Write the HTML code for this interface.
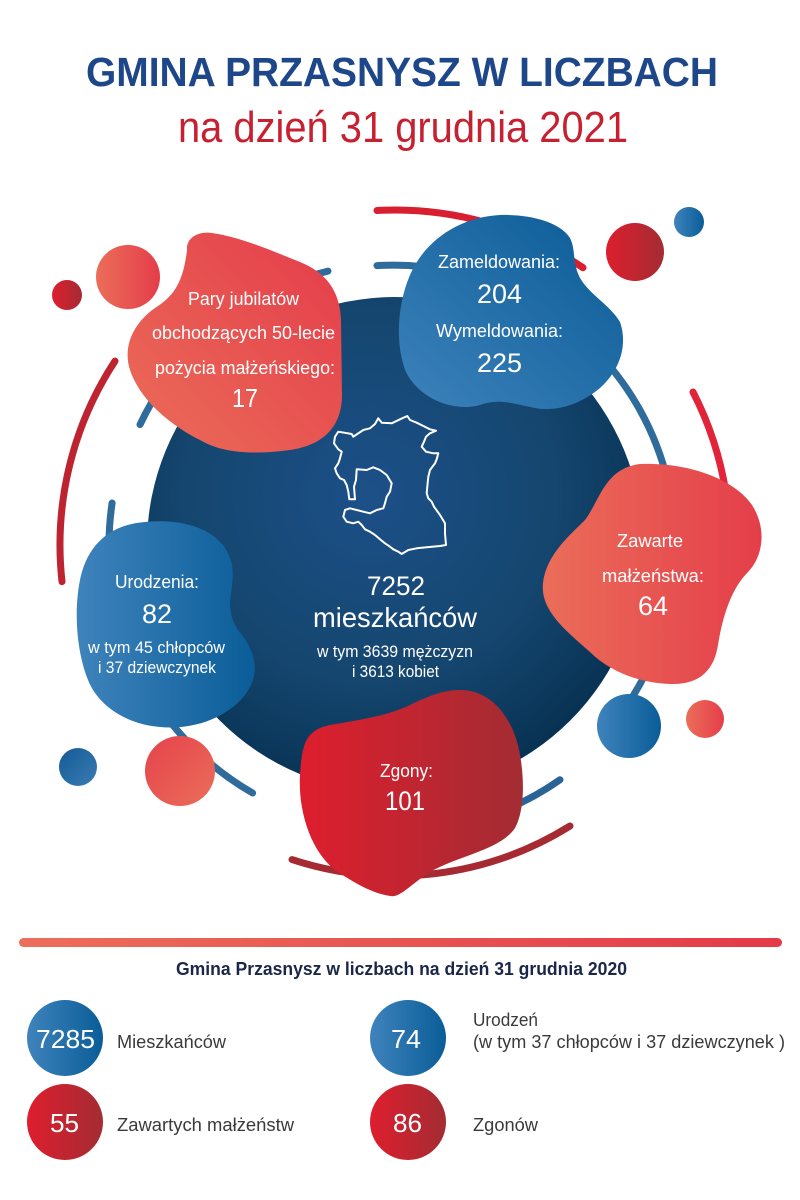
<!DOCTYPE html>
<html>
<head>
<meta charset="utf-8">
<style>
  html,body{margin:0;padding:0;background:#fff;}
  svg{display:block;}
  text{font-family:"Liberation Sans", sans-serif;}
  .w{fill:#fff;}
</style>
</head>
<body>
<svg width="800" height="1200" viewBox="0 0 800 1200" xmlns="http://www.w3.org/2000/svg">
  <defs>
    <radialGradient id="gBig" cx="0.45" cy="0.4" r="0.62">
      <stop offset="0" stop-color="#1c5088"/>
      <stop offset="0.6" stop-color="#15466f"/>
      <stop offset="1" stop-color="#073152"/>
    </radialGradient>
    <linearGradient id="gBlueH" x1="0" y1="0" x2="1" y2="0">
      <stop offset="0" stop-color="#3f83bc"/>
      <stop offset="1" stop-color="#0a5d98"/>
    </linearGradient>
    <linearGradient id="gBlueD" x1="0" y1="1" x2="1" y2="0">
      <stop offset="0" stop-color="#3d82bb"/>
      <stop offset="1" stop-color="#0a5b96"/>
    </linearGradient>
    <linearGradient id="gBlueSm" x1="0" y1="0" x2="1" y2="1">
      <stop offset="0" stop-color="#145a95"/>
      <stop offset="1" stop-color="#3a7cb4"/>
    </linearGradient>
    <linearGradient id="gDeep" x1="0" y1="0" x2="1" y2="0">
      <stop offset="0" stop-color="#de1e2e"/>
      <stop offset="1" stop-color="#a32c33"/>
    </linearGradient>
    <linearGradient id="gOrH" x1="0" y1="0" x2="1" y2="0">
      <stop offset="0" stop-color="#eb6d59"/>
      <stop offset="1" stop-color="#e43e4a"/>
    </linearGradient>
    <linearGradient id="gOrD" x1="0" y1="1" x2="1" y2="0">
      <stop offset="0" stop-color="#eb6d59"/>
      <stop offset="1" stop-color="#e43c4a"/>
    </linearGradient>
    <linearGradient id="gOrC" x1="0" y1="0" x2="1" y2="1">
      <stop offset="0" stop-color="#e5424c"/>
      <stop offset="1" stop-color="#eb6e59"/>
    </linearGradient>
    <linearGradient id="gBar" x1="0" y1="0" x2="1" y2="0">
      <stop offset="0" stop-color="#ec6e5b"/>
      <stop offset="1" stop-color="#e43a48"/>
    </linearGradient>
  </defs>

  <!-- Title -->
  <text x="86" y="86" textLength="632" lengthAdjust="spacingAndGlyphs" font-size="41" font-weight="bold" fill="#1d4788">GMINA PRZASNYSZ W LICZBACH</text>
  <text x="178" y="142" textLength="450" lengthAdjust="spacingAndGlyphs" font-size="44" fill="#c62130">na dzień 31 grudnia 2021</text>

  <!-- Big circle -->
  <circle cx="395" cy="545" r="248" fill="url(#gBig)"/>

  <!-- Arcs -->
  <g fill="none" stroke-width="7" stroke-linecap="round">
    <path d="M377,210.5 A335,335 0 0 1 583,267.7" stroke="#d91f2f"/>
    <path d="M115,361.1 A335,335 0 0 0 62,581.6" stroke="#bd2430"/>
    <path d="M693,392 A335,335 0 0 1 725.5,600" stroke="#e1243a"/>
    <path d="M292,859.6 A331,331 0 0 0 570,826" stroke="#a52a32"/>

    <path d="M377,265.6 A282,282 0 0 1 623.7,710" stroke="#2f6b9b"/>
    <path d="M140,424.6 A282,282 0 0 1 328,271.1" stroke="#2f6b9b"/>
    <path d="M112.1,503 A286,286 0 0 0 252.6,793" stroke="#2f6b9b"/>
    <path d="M500,812 A287,287 0 0 0 560,779.8" stroke="#2a6496"/>
  </g>

  <!-- Small decorative circles -->
  <circle cx="67" cy="295" r="15" fill="url(#gDeep)"/>
  <circle cx="128" cy="277" r="32" fill="url(#gOrH)"/>
  <circle cx="635" cy="252" r="29" fill="url(#gDeep)"/>
  <circle cx="689" cy="222" r="15" fill="url(#gBlueH)"/>
  <circle cx="78" cy="767" r="19" fill="url(#gBlueSm)"/>
  <circle cx="180" cy="771" r="35" fill="url(#gOrC)"/>
  <circle cx="629" cy="726" r="32" fill="url(#gBlueH)"/>
  <circle cx="705" cy="719" r="19" fill="url(#gOrH)"/>

  <!-- Blobs -->
  <!-- Pary jubilatów -->
  <path d="M187,250 C186,238 198,231 212,233 C240,237 270,250 300,262 C325,272 340,290 341,320 L342,395 C342,425 325,445 290,450 C260,454 225,455 200,440 C170,425 140,400 130,370 C122,345 135,322 155,308 C172,297 183,285 187,250 Z" fill="url(#gOrD)"/>
  <!-- Zameldowania -->
  <path d="M500,215 C530,214 560,222 570,238 C576,250 572,262 580,278 C590,295 610,305 620,322 C628,345 620,370 600,388 C580,405 555,412 535,408 C515,404 500,398 480,405 C455,412 420,400 406,372 C395,345 397,305 410,275 C425,240 460,217 500,215 Z" fill="url(#gBlueD)"/>
  <!-- Urodzenia -->
  <path d="M145,522 C185,518 225,530 232,565 C236,590 222,605 238,630 C255,650 262,672 245,695 C225,720 190,730 160,727 C125,724 98,705 88,680 C76,650 74,610 80,580 C86,550 105,525 145,522 Z" fill="url(#gBlueH)"/>
  <!-- Zawarte -->
  <path d="M640,464 C690,462 735,480 752,505 C768,530 762,558 748,572 C730,590 722,620 718,645 C714,670 700,685 670,684 C640,683 610,672 590,652 C565,630 540,610 543,583 C546,555 570,535 585,520 C600,500 605,468 640,464 Z" fill="url(#gOrH)"/>
  <!-- Zgony -->
  <path d="M460,690 C490,690 510,715 518,745 C525,775 525,810 515,828 C500,850 460,855 430,872 C410,885 400,898 390,896 C370,893 350,880 335,870 C310,850 298,810 300,775 C302,745 305,730 330,725 C360,720 390,715 410,705 C430,695 445,690 460,690 Z" fill="url(#gDeep)"/>

  <!-- Map outline -->
  <path d="M349.3,499.3 L348.3,491.7 L346.7,485 L344,480 L340,478.3 L336.7,473.3 L335,468.3 L338.3,463.3 L340,458.3 L341.7,451.7 L338.3,449.3 L334,443.3 L335,436.7 L338.3,431.7 L351.7,434 L353.3,436.7 L363.3,430 L370,428.3 L375,424 L378.3,418.3 L381.7,422.7 L391.7,423.3 L400,419.3 L407.3,416 L410,420 L416.7,422.7 L423.3,426 L430,429.3 L436,430.7 L430,433.3 L426,436.7 L424,441.7 L421.7,446.7 L426,451.7 L433.3,453.3 L438.3,453.3 L436.7,459.3 L435,463.3 L430,470 L428.3,476.7 L427.3,486.7 L426.7,493.3 L428.3,498.3 L431.7,501.7 L434,506.7 L440,515 L445,523.3 L445,533.3 L446,545 L440,546 L426.7,547.3 L416.7,548.3 L408.3,550 L401.7,554 L398.3,551.7 L393.3,549.3 L390,546.7 L385,543.3 L380,539.3 L375,535 L370,531.7 L365,529.3 L361.7,525 L358.3,521.7 L353.3,523.3 L346.7,521.7 L343.3,516.7 L345,510 L350,508.3 L356.7,510 L363.3,511.7 L370,513.3 L376.7,510 L383.3,508.3 L385,503.3 L386.7,496.7 L390,491.7 L391.7,483.3 L386.7,475 L380,470 L373.3,467.3 L366.7,470 L356.7,469.3 L356,480 L354,486.7 L355,499.3 Z" fill="none" stroke="#fff" stroke-width="2" stroke-linejoin="round"/>

  <!-- Blob texts -->
  <g class="w" fill="#fff">
    <text x="188" y="305" textLength="111" lengthAdjust="spacingAndGlyphs" font-size="18">Pary jubilatów</text>
    <text x="152" y="339" textLength="183" lengthAdjust="spacingAndGlyphs" font-size="18">obchodzących 50-lecie</text>
    <text x="155" y="374" textLength="180" lengthAdjust="spacingAndGlyphs" font-size="18">pożycia małżeńskiego:</text>
    <text x="232" y="407" textLength="26" lengthAdjust="spacingAndGlyphs" font-size="26">17</text>

    <text x="438" y="268" textLength="122" lengthAdjust="spacingAndGlyphs" font-size="18">Zameldowania:</text>
    <text x="477" y="303" textLength="45" lengthAdjust="spacingAndGlyphs" font-size="27">204</text>
    <text x="436" y="337" textLength="127" lengthAdjust="spacingAndGlyphs" font-size="18">Wymeldowania:</text>
    <text x="477" y="372" textLength="45" lengthAdjust="spacingAndGlyphs" font-size="27">225</text>

    <text x="115" y="588" textLength="84" lengthAdjust="spacingAndGlyphs" font-size="18">Urodzenia:</text>
    <text x="142" y="623" textLength="30" lengthAdjust="spacingAndGlyphs" font-size="27">82</text>
    <text x="88" y="653" textLength="137" lengthAdjust="spacingAndGlyphs" font-size="16.5">w tym 45 chłopców</text>
    <text x="98" y="673" textLength="118" lengthAdjust="spacingAndGlyphs" font-size="16.5">i 37 dziewczynek</text>

    <text x="367" y="595" textLength="58" lengthAdjust="spacingAndGlyphs" font-size="27">7252</text>
    <text x="313" y="627" textLength="164" lengthAdjust="spacingAndGlyphs" font-size="28">mieszkańców</text>
    <text x="317" y="657" textLength="156" lengthAdjust="spacingAndGlyphs" font-size="16.5">w tym 3639 mężczyzn</text>
    <text x="352" y="677" textLength="87" lengthAdjust="spacingAndGlyphs" font-size="16.5">i 3613 kobiet</text>

    <text x="617" y="547" textLength="66" lengthAdjust="spacingAndGlyphs" font-size="18">Zawarte</text>
    <text x="602" y="582" textLength="102" lengthAdjust="spacingAndGlyphs" font-size="18">małżeństwa:</text>
    <text x="638" y="615" textLength="30" lengthAdjust="spacingAndGlyphs" font-size="27">64</text>

    <text x="380" y="777" textLength="53" lengthAdjust="spacingAndGlyphs" font-size="18">Zgony:</text>
    <text x="385" y="810" textLength="40" lengthAdjust="spacingAndGlyphs" font-size="27">101</text>
  </g>

  <!-- Bottom section -->
  <rect x="19" y="938" width="763" height="9" rx="4.5" fill="url(#gBar)"/>
  <text x="176" y="975" textLength="451" lengthAdjust="spacingAndGlyphs" font-size="18" font-weight="bold" fill="#1b2748">Gmina Przasnysz w liczbach na dzień 31 grudnia 2020</text>

  <circle cx="65" cy="1038" r="38" fill="url(#gBlueH)"/>
  <circle cx="65" cy="1122" r="38" fill="url(#gDeep)"/>
  <circle cx="408" cy="1038" r="38" fill="url(#gBlueH)"/>
  <circle cx="408" cy="1122" r="38" fill="url(#gDeep)"/>

  <text x="36" y="1048" textLength="59" lengthAdjust="spacingAndGlyphs" font-size="26" fill="#fff">7285</text>
  <text x="50" y="1132" textLength="29" lengthAdjust="spacingAndGlyphs" font-size="26" fill="#fff">55</text>
  <text x="391" y="1048" textLength="30" lengthAdjust="spacingAndGlyphs" font-size="26" fill="#fff">74</text>
  <text x="393" y="1132" textLength="29" lengthAdjust="spacingAndGlyphs" font-size="26" fill="#fff">86</text>

  <text x="117" y="1048" textLength="109" lengthAdjust="spacingAndGlyphs" font-size="18" fill="#3a3a3a">Mieszkańców</text>
  <text x="117" y="1131" textLength="177" lengthAdjust="spacingAndGlyphs" font-size="18" fill="#3a3a3a">Zawartych małżeństw</text>
  <text x="473" y="1026" textLength="65" lengthAdjust="spacingAndGlyphs" font-size="18" fill="#3a3a3a">Urodzeń</text>
  <text x="473" y="1048" textLength="312" lengthAdjust="spacingAndGlyphs" font-size="18" fill="#3a3a3a">(w tym 37 chłopców i 37 dziewczynek )</text>
  <text x="473" y="1131" textLength="65" lengthAdjust="spacingAndGlyphs" font-size="18" fill="#3a3a3a">Zgonów</text>
</svg>
</body>
</html>
